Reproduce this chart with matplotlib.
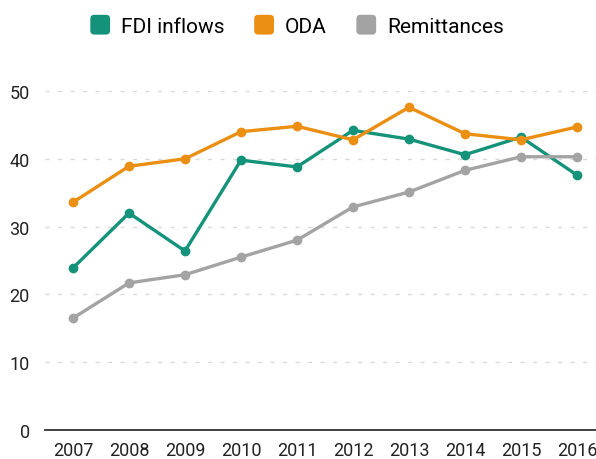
import matplotlib.pyplot as plt
from matplotlib.patches import Patch, FancyBboxPatch
from matplotlib.legend_handler import HandlerBase

years = [2007, 2008, 2009, 2010, 2011, 2012, 2013, 2014, 2015, 2016]
fdi = [23.9, 32.0, 26.4, 39.8, 38.8, 44.2, 42.9, 40.6, 43.2, 37.6]
oda = [33.6, 38.9, 40.0, 44.0, 44.8, 42.8, 47.6, 43.7, 42.8, 44.7]
remit = [16.5, 21.7, 22.9, 25.5, 28.0, 32.9, 35.1, 38.3, 40.3, 40.3]

names = ["FDI inflows", "ODA", "Remittances"]
colors = ["#14937a", "#ea8f12", "#a3a3a3"]

plt.rcParams["font.family"] = ["Roboto", "DejaVu Sans"]


class RoundSquare(HandlerBase):
    # legend key drawn as a small rounded square
    def create_artists(self, legend, orig, xd, yd, width, height, fontsize, trans):
        s = fontsize * 0.95
        x0 = -xd + (width - s) / 2
        y0 = -yd + (height - s) / 2
        p = FancyBboxPatch((x0, y0), s, s, boxstyle="round,pad=0,rounding_size=%.1f" % (s * 0.2),
                           fc=orig.get_facecolor(), ec="none", transform=trans)
        return [p]


fig = plt.figure(figsize=(5.96, 4.60), dpi=100)
ax = fig.add_axes([0.0755, 0.063, 0.9245, 0.737])

for vals, c in zip([fdi, oda, remit], colors):
    ax.plot(years, vals, color=c, lw=2.4, marker="o", ms=6, clip_on=False)

ax.set_xlim(2006.5, 2016.34)
ax.set_ylim(0, 50)
ax.set_yticks([0, 10, 20, 30, 40, 50])
ax.set_xticks(years)
ax.grid(axis="y", color="#dadada", ls=(0, (3, 6)), lw=1)
ax.set_axisbelow(True)
for s in ["left", "right", "top"]:
    ax.spines[s].set_visible(False)
ax.spines["bottom"].set_color("#333333")
ax.spines["bottom"].set_linewidth(1.3)
ax.tick_params(axis="both", length=0, labelsize=13, colors="#222222")
ax.tick_params(axis="y", pad=11)
ax.tick_params(axis="x", pad=8)

handles = [Patch(fc=c) for c in colors]
fig.legend(handles, names, loc="center", bbox_to_anchor=(0.498, 0.941), ncol=3,
           frameon=False, fontsize=15, handlelength=1.0, handleheight=0.85,
           handletextpad=0.5, columnspacing=1.4,
           handler_map={Patch: RoundSquare()})

fig.savefig("out.png", dpi=100, facecolor="white")
